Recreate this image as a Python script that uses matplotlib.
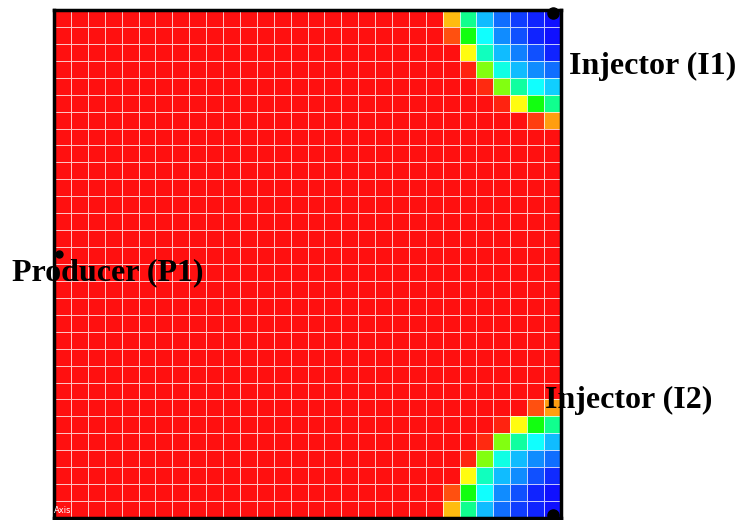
import numpy as np
import matplotlib.pyplot as plt
from matplotlib.colors import LinearSegmentedColormap

# grid size (cells per side)
NX = 30
NY = 30

# saturation near injector I1 (rows 0-7 from top, columns 22-29)
corner_i1 = [
    [1.00, 0.82, 0.37, 0.18, 0.10, 0.05, 0.02, 0.00],
    [1.00, 0.93, 0.50, 0.25, 0.13, 0.07, 0.02, 0.00],
    [1.00, 1.00, 0.75, 0.32, 0.18, 0.12, 0.07, 0.02],
    [1.00, 1.00, 0.98, 0.62, 0.28, 0.18, 0.13, 0.10],
    [1.00, 1.00, 1.00, 0.97, 0.62, 0.35, 0.25, 0.20],
    [1.00, 1.00, 1.00, 1.00, 0.98, 0.75, 0.50, 0.37],
    [1.00, 1.00, 1.00, 1.00, 1.00, 1.00, 0.95, 0.85],
    [1.00, 1.00, 1.00, 1.00, 1.00, 1.00, 1.00, 1.00],
]

# saturation near injector I2 (rows 22-29 from top, columns 22-29)
corner_i2 = [
    [1.00, 1.00, 1.00, 1.00, 1.00, 1.00, 1.00, 1.00],
    [1.00, 1.00, 1.00, 1.00, 1.00, 1.00, 0.93, 0.85],
    [1.00, 1.00, 1.00, 1.00, 0.98, 0.75, 0.50, 0.37],
    [1.00, 1.00, 1.00, 0.97, 0.62, 0.35, 0.25, 0.18],
    [1.00, 1.00, 0.98, 0.62, 0.28, 0.18, 0.13, 0.10],
    [1.00, 1.00, 0.75, 0.32, 0.18, 0.13, 0.07, 0.03],
    [1.00, 0.93, 0.50, 0.25, 0.13, 0.07, 0.02, 0.00],
    [1.00, 0.82, 0.37, 0.18, 0.10, 0.05, 0.02, 0.00],
]

# well positions (cell coords, x from left, y from top)
well_names = ["Injector (I1)", "Injector (I2)", "Producer (P1)"]
well_x = [29.5, 29.5, 0.3]
well_y = [0.2, 29.8, 14.4]

# full saturation field, everything else untouched (red)
sat = np.ones((NY, NX))
sat[0:8, 22:30] = np.array(corner_i1)
sat[22:30, 22:30] = np.array(corner_i2)

cmap = LinearSegmentedColormap.from_list(
    "sat", ["#1010ff", "#10ffff", "#10ff10", "#ffff10", "#ff1010"])

fig = plt.figure(figsize=(7.39, 5.2), dpi=100)
ax = fig.add_axes([54 / 739, 2 / 520, 507 / 739, 508 / 520])

ax.pcolormesh(np.arange(NX + 1), np.arange(NY + 1), sat, cmap=cmap,
              vmin=0, vmax=1, edgecolor=(1, 1, 1, 0.75), linewidth=0.65)
ax.set_xlim(0, NX)
ax.set_ylim(NY, 0)
ax.set_xticks([])
ax.set_yticks([])
for side in ax.spines:
    ax.spines[side].set_linewidth(2.5)
    ax.spines[side].set_color("black")

# wells
ax.plot(well_x[:2], well_y[:2], "o", color="black", markersize=8, clip_on=False, zorder=5)
ax.plot(well_x[2], well_y[2], "o", color="black", markersize=5, clip_on=False, zorder=5)

font = dict(family="Liberation Serif", weight="bold", size=23, color="black")
ax.text(30.45, 3.35, well_names[0], ha="left", va="center", **font)
ax.text(29.05, 23.05, well_names[1], ha="left", va="center", **font)
ax.text(-2.5, 15.5, well_names[2], ha="left", va="center", **font)

ax.text(0.0, 29.8, "Axis", ha="left", va="bottom", color="white", fontsize=6)

fig.savefig("out.png", dpi=100)
